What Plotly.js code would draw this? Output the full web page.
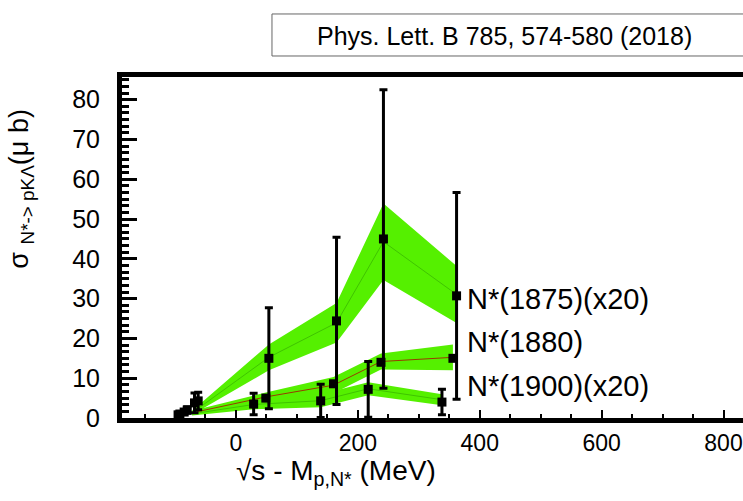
<!DOCTYPE html>
<html>
<head>
<meta charset="utf-8">
<script src="https://cdn.plot.ly/plotly-3.0.1.min.js"></script>
<style>html,body{margin:0;padding:0;background:#fff;overflow:hidden}</style>
</head>
<body>
<div id="chart" style="width:743px;height:501px"></div>
<script>
// ---- data ----
const seriesNames = ["N*(1875)(x20)", "N*(1880)", "N*(1900)(x20)"];

const x1875 = [-92, -62, 54, 165, 242, 362];
const y1875 = [1.0, 4.3, 15.0, 24.4, 45.0, 30.7];
const e1875 = [0.6, 2.2, 12.7, 21.0, 37.5, 26.0];
const band1875X = [-72, 54, 165, 242, 362];
const band1875Up = [1.8, 18.5, 28.9, 53.9, 38.2];
const band1875Lo = [0.8, 12.0, 19.0, 34.7, 23.9];

const x1880 = [-85, -68, 49, 160, 238, 356];
const y1880 = [1.5, 3.8, 5.0, 8.6, 14.0, 15.0];
const e1880 = [0.5, 2.5, null, null, null, null];
const band1880X = [-72, 49, 160, 238, 356];
const band1880Up = [1.8, 6.4, 10.3, 16.2, 18.5];
const band1880Lo = [0.8, 4.2, 6.2, 12.2, 12.0];

const x1900 = [-95, -80, 29, 139, 217, 338];
const y1900 = [0.8, 2.0, 3.5, 4.3, 7.2, 4.0];
const e1900 = [0.5, 0.8, 2.7, 4.2, 7.0, 3.2];
const band1900X = [-72, 29, 139, 217, 338];
const band1900Up = [1.5, 4.6, 6.0, 9.0, 6.0];
const band1900Lo = [0.6, 2.2, 2.7, 5.7, 3.2];

const labelX = [376, 376, 376];
const labelY = [29.8, 19.0, 8.0];

const refText = "Phys. Lett. B 785, 574-580 (2018)";

// ---- build ----
const GREEN = "#55f000";
function band(xs, up, lo) {
  return {
    x: xs.concat(xs.slice().reverse()),
    y: up.concat(lo.slice().reverse()),
    type: "scatter", mode: "lines", fill: "toself",
    fillcolor: GREEN, line: {width: 0, color: GREEN},
    hoverinfo: "skip", showlegend: false
  };
}
function center(xs, up, lo, color) {
  return {
    x: xs, y: xs.map((_, i) => (up[i] + lo[i]) / 2),
    type: "scatter", mode: "lines",
    line: {width: 1, color: color}, hoverinfo: "skip", showlegend: false
  };
}
function pts(xs, ys, es, name) {
  return {
    x: xs, y: ys, name: name, type: "scatter", mode: "markers",
    marker: {symbol: "square", size: 9, color: "#000"},
    error_y: {type: "data", array: es, visible: true, color: "#000", thickness: 3, width: 4},
    showlegend: false
  };
}

const traces = [
  band(band1875X, band1875Up, band1875Lo),
  band(band1880X, band1880Up, band1880Lo),
  band(band1900X, band1900Up, band1900Lo),
  center(band1875X, band1875Up, band1875Lo, "#3fc400"),
  center(band1880X, band1880Up, band1880Lo, "#9a3a00"),
  center(band1900X, band1900Up, band1900Lo, "#3fc400"),
  pts(x1875, y1875, e1875, seriesNames[0]),
  pts(x1880, y1880, e1880, seriesNames[1]),
  pts(x1900, y1900, e1900, seriesNames[2])
];

const FONT = "Arial, 'Liberation Sans', sans-serif";
const annotations = seriesNames.map((t, i) => ({
  x: labelX[i], y: labelY[i], xref: "x", yref: "y", text: t, showarrow: false,
  xanchor: "left", yanchor: "middle", font: {family: FONT, size: 29, color: "#000"}
}));
annotations.push({
  x: 0.6167, y: 1.1202, xref: "paper", yref: "paper", text: refText, showarrow: false,
  xanchor: "center", yanchor: "middle", font: {family: FONT, size: 25, color: "#000"}
});
annotations.push({
  x: -0.163, y: 0.672, xref: "paper", yref: "paper", textangle: -90,
  text: "σ <sub>N*-> pKΛ</sub>(μ b)", showarrow: false,
  xanchor: "center", yanchor: "middle", font: {family: FONT, size: 27, color: "#000"}
});
annotations.push({
  x: 0.345, y: -0.16, xref: "paper", yref: "paper",
  text: "√s - M<sub>p,N*</sub> (MeV)", showarrow: false,
  xanchor: "center", yanchor: "middle", font: {family: FONT, size: 28, color: "#000"}
});

const layout = {
  width: 743, height: 501,
  margin: {l: 122, r: 0, t: 77, b: 83},
  paper_bgcolor: "#fff", plot_bgcolor: "#fff",
  showlegend: false,
  xaxis: {
    range: [-187, 832], showgrid: false, zeroline: false,
    showline: true, linecolor: "#000", linewidth: 5, mirror: true,
    ticks: "inside", ticklen: 8, tickwidth: 2, tickcolor: "#000",
    dtick: 200, tick0: 0,
    minor: {dtick: 50, ticks: "inside", ticklen: 4, tickwidth: 2, tickcolor: "#000"},
    tickfont: {family: FONT, size: 23, color: "#000"}
  },
  yaxis: {
    range: [0, 85.7], showgrid: false, zeroline: false,
    showline: true, linecolor: "#000", linewidth: 5, mirror: false,
    ticks: "inside", ticklen: 15, tickwidth: 3, tickcolor: "#000",
    dtick: 10, tick0: 0, ticklabelstandoff: 12,
    minor: {dtick: 10 / 6, ticks: "inside", ticklen: 7, tickwidth: 3, tickcolor: "#000"},
    tickfont: {family: FONT, size: 25, color: "#000"}
  },
  shapes: [{
    type: "rect", xref: "paper", yref: "paper",
    x0: 0.2415, x1: 1.02, y0: 1.0616, y1: 1.1848,
    line: {color: "#666", width: 1}, fillcolor: "rgba(0,0,0,0)"
  }],
  annotations: annotations
};

Plotly.newPlot("chart", traces, layout, {displayModeBar: false, staticPlot: true});
</script>
</body>
</html>
